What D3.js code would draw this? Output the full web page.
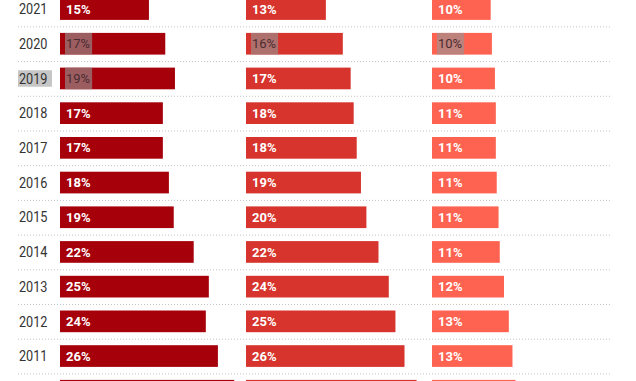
<!DOCTYPE html>
<html>
<head>
<meta charset="utf-8">
<script src="https://cdn.jsdelivr.net/npm/d3@7"></script>
<style>
  html, body { margin: 0; padding: 0; background: #fff; }
  svg { display: block; font-family: Roboto, "Noto Sans", sans-serif; }
</style>
</head>
<body>
<script>
// ---- data ----
const years   = ["2021","2020","2019","2018","2017","2016","2015","2014","2013","2012","2011","2010"];
const series  = ["s1","s2","s3"];
const valuesS1 = [14.7, 17.4, 19.0, 17.0, 17.0, 18.0, 18.8, 22.1, 24.6, 24.1, 26.1, 28.8];
const valuesS2 = [13.2, 16.0, 17.3, 17.8, 18.3, 19.0, 19.9, 21.9, 23.6, 24.7, 26.2, 28.2];
const valuesS3 = [9.7, 9.9, 10.4, 10.55, 10.55, 10.7, 11.0, 11.2, 11.9, 12.7, 13.3, 13.8];
// cells shown with a selection highlight in the reference
const selectedCells = [["2020","s1"],["2020","s2"],["2020","s3"],["2019","s1"]];
const selectedYears = ["2019"];

const W = 636, H = 381;
const colors = {s1: "#a6000b", s2: "#d6342c", s3: "#fe6351"};
const valuesBySeries = {s1: valuesS1, s2: valuesS2, s3: valuesS3};

const svg = d3.select("body").append("svg").attr("width", W).attr("height", H);

const y = d3.scaleBand().domain(years).range([-8.3, 408.1])
  .paddingInner(0.375).paddingOuter(0.1875);
const col = d3.scaleBand().domain(series).range([60, 618]);
const x = d3.scaleLinear().domain([0, 30]).range([0, 181.5]);

const step = y.step(), bw = y.bandwidth();

// separators
svg.append("g").selectAll("line").data(years).join("line")
  .attr("x1", 18).attr("x2", 612)
  .attr("y1", d => y(d) + bw + step * 0.1875 + 0.5)
  .attr("y2", d => y(d) + bw + step * 0.1875 + 0.5)
  .attr("stroke", "#c4c4c4").attr("stroke-width", 1).attr("stroke-dasharray", "1,2");

// year labels
const yearG = svg.append("g");
yearG.selectAll("rect").data(selectedYears).join("rect")
  .attr("x", 18).attr("width", 34)
  .attr("y", d => y(d) + bw / 2 - 8.2).attr("height", 16.5)
  .attr("fill", "#c6c6c6");
yearG.selectAll("text").data(years).join("text")
  .attr("x", 19).attr("y", d => y(d) + bw / 2 + 5.2)
  .attr("font-size", 14).attr("fill", "#333")
  .attr("textLength", 28.5).attr("lengthAdjust", "spacingAndGlyphs")
  .text(d => d);

const isSel = (yr, s) => selectedCells.some(c => c[0] === yr && c[1] === s);

series.forEach(s => {
  const vals = valuesBySeries[s];
  const rows = years.map((yr, i) => ({year: yr, v: vals[i], sel: isSel(yr, s)}));
  const g = svg.append("g").attr("transform", `translate(${col(s)},0)`);
  g.selectAll("rect.bar").data(rows).join("rect").attr("class", "bar")
    .attr("x", x(0)).attr("y", d => y(d.year))
    .attr("width", d => x(d.v)).attr("height", bw)
    .attr("fill", colors[s]);
  const labels = g.selectAll("text").data(rows).join("text")
    .attr("x", x(0) + 6).attr("y", d => y(d.year) + bw / 2 + 4.6)
    .attr("font-size", 13)
    .attr("font-weight", d => d.sel ? 400 : 700)
    .attr("fill", d => d.sel ? "#4a2c30" : "#fff")
    .text(d => Math.round(d.v) + "%");
  // selection overlay behind selected labels
  labels.filter(d => d.sel).each(function(d) {
    const bb = this.getBBox();
    g.insert("rect", "text")
      .attr("x", bb.x - 1).attr("width", bb.width + 3)
      .attr("y", y(d.year)).attr("height", bw)
      .attr("fill", "rgba(150,150,150,0.62)");
  });
});
</script>
</body>
</html>
